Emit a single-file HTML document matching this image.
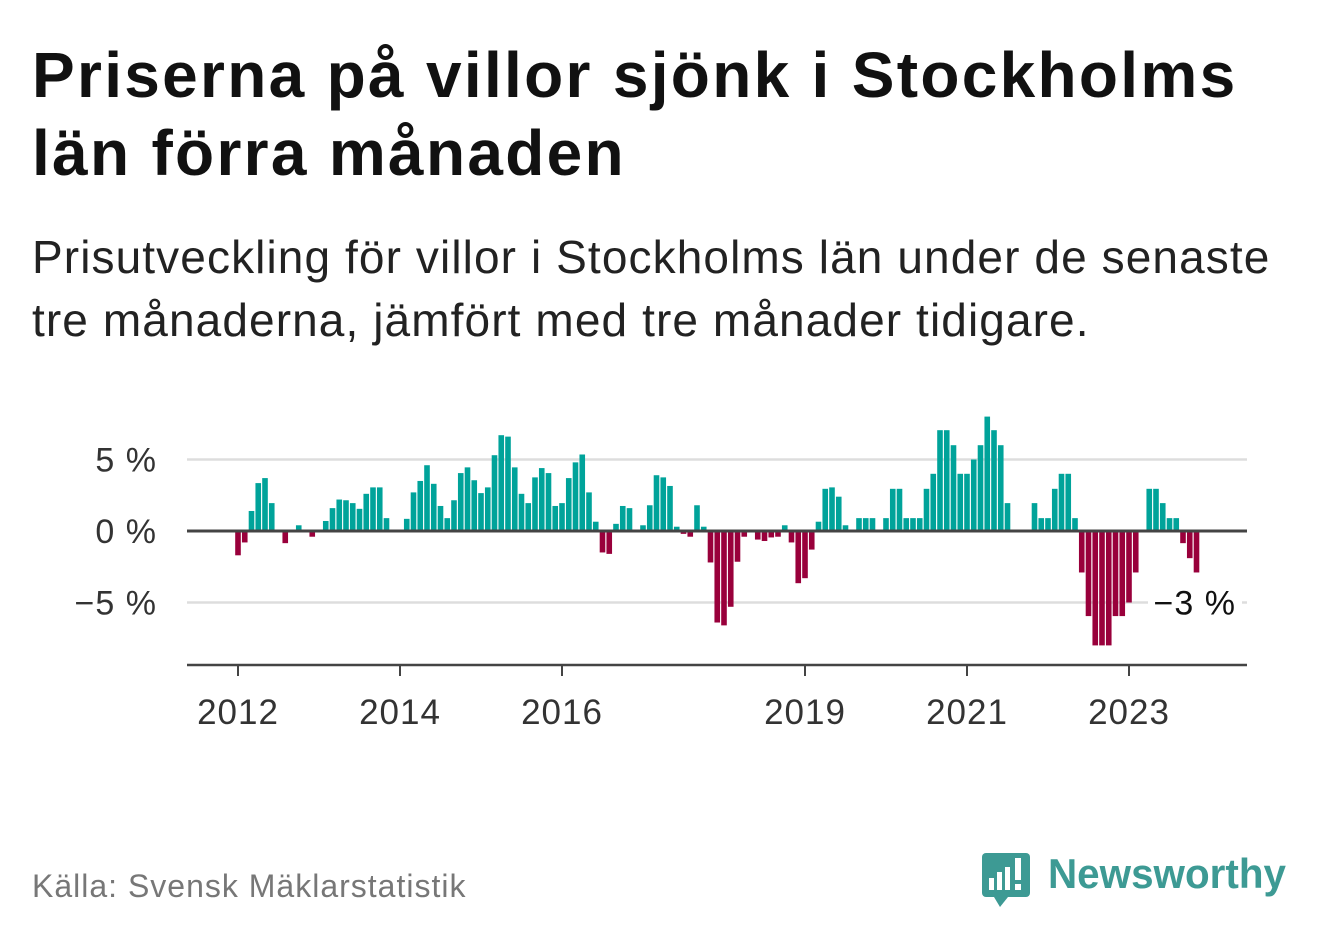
<!DOCTYPE html>
<html><head><meta charset="utf-8">
<style>
body{margin:0;background:#fff;font-family:"Liberation Sans",sans-serif;}
#wrap{position:relative;width:1322px;height:939px;overflow:hidden;}
h1{position:absolute;left:32px;top:36px;margin:0;font-size:64px;line-height:78px;font-weight:bold;color:#111;letter-spacing:2.3px}
.sub{position:absolute;left:32px;top:226px;margin:0;font-size:46px;line-height:63px;color:#222;letter-spacing:1.1px}
.src{position:absolute;left:32px;top:868px;font-size:32px;color:#777;letter-spacing:1px}
.logo{position:absolute;left:980px;top:850px;}
</style></head><body>
<div id="wrap">
<h1>Priserna på villor sjönk i Stockholms<br>län förra månaden</h1>
<p class="sub">Prisutveckling för villor i Stockholms län under de senaste<br>tre månaderna, jämfört med tre månader tidigare.</p>
<svg id="chart" width="1322" height="939" style="position:absolute;left:0;top:0"></svg>
<div class="src">Källa: Svensk Mäklarstatistik</div>
<div class="logo">
<svg width="320" height="62">
<rect x="2" y="3" width="48" height="44" rx="4" fill="#3d9a94"/>
<polygon points="14,47 28,47 20,57" fill="#3d9a94"/>
<rect x="9" y="28" width="5" height="12" fill="#fff"/><rect x="17" y="22" width="5" height="18" fill="#fff"/><rect x="25" y="17" width="5" height="23" fill="#fff"/><rect x="35" y="8" width="6" height="22" fill="#fff"/><rect x="35" y="34" width="6" height="6" fill="#fff"/>
<text x="68" y="38" font-family="Liberation Sans, sans-serif" font-size="42" font-weight="bold" fill="#3d9a94" textLength="238" lengthAdjust="spacingAndGlyphs">Newsworthy</text>
</svg></div>
</div>
<script>
const values=[-1.7,-0.8,1.4,3.35,3.7,1.95,0,-0.85,0,0.4,0,-0.4,
0,0.7,1.6,2.2,2.15,1.95,1.55,2.6,3.05,3.05,0.9,0,
0,0.85,2.7,3.5,4.6,3.3,1.75,0.9,2.15,4.05,4.45,3.55,
2.65,3.05,5.3,6.7,6.6,4.45,2.6,1.95,3.75,4.4,4.05,1.75,
1.95,3.7,4.8,5.35,2.7,0.65,-1.5,-1.6,0.5,1.75,1.6,0,
0.4,1.8,3.9,3.75,3.15,0.3,-0.2,-0.4,1.8,0.3,-2.2,-6.4,
-6.6,-5.3,-2.15,-0.4,0,-0.6,-0.7,-0.45,-0.4,0.4,-0.8,-3.65,
-3.3,-1.3,0.65,2.95,3.05,2.4,0.4,0,0.9,0.9,0.9,0,
0.9,2.95,2.95,0.9,0.9,0.9,2.95,4.0,7.05,7.05,6.0,4.0,
4.0,5.0,6.0,8.0,7.05,6.0,1.95,0,0,0,1.95,0.9,
0.9,2.95,4.0,4.0,0.9,-2.9,-5.95,-8,-8,-8,-5.95,-5.95,
-5.0,-2.9,0,2.95,2.95,1.95,0.9,0.9,-0.85,-1.9,-2.9];
const yTicks=[5,0,-5];
const yTickLabels=["5 %","0 %","\u22125 %"];
const xTickYears=[2012,2014,2016,2019,2021,2023];
const startYear=2012;
const lastLabel="\u22123 %";
const NS="http://www.w3.org/2000/svg";
const svg=document.getElementById('chart');
const x=m=>238+m*6.75;
const y=v=>531-v*14.3;
function el(t,a){const e=document.createElementNS(NS,t);for(const k in a)e.setAttribute(k,a[k]);svg.appendChild(e);return e;}
yTicks.forEach((t,i)=>{
 if(t!==0){const g=el('line',{x1:187,x2:1247,y1:y(t),y2:y(t),stroke:'#ddd','stroke-width':2.5});
 
 }
 const tx=el('text',{x:157,y:y(t)+12,'text-anchor':'end','font-size':34,'letter-spacing':1,fill:'#333','font-family':'Liberation Sans, sans-serif'});
 tx.textContent=yTickLabels[i];
 
 
});
values.forEach((v,i)=>{
 if(v===0)return;
 const r=el('rect',{x:x(i)-2.8,width:5.6,y:v>0?y(v):y(0),height:Math.abs(y(v)-y(0)),fill:v>0?'#00a39a':'#99003b'});
 
 
});
const z=el('line',{x1:187,x2:1247,y1:y(0),y2:y(0),stroke:'#444','stroke-width':3});


const ax=el('line',{x1:187,x2:1247,y1:665,y2:665,stroke:'#444','stroke-width':2.5});


xTickYears.forEach(yr=>{
 const xx=x((yr-startYear)*12);
 const tk=el('line',{x1:xx,x2:xx,y1:665,y2:676,stroke:'#444','stroke-width':2});
 
 
 const t=el('text',{x:xx,y:724,'text-anchor':'middle','font-size':35,'letter-spacing':1,fill:'#333','font-family':'Liberation Sans, sans-serif'});
 t.textContent=yr;
 
 
});
const bg=el('rect',{x:1148,y:y(-5)-20,width:94,height:40,fill:'#fff'});


const lt=el('text',{x:1236,y:y(-5)+12,'text-anchor':'end','font-size':34,'letter-spacing':1,fill:'#111','font-family':'Liberation Sans, sans-serif'});
lt.textContent=lastLabel;


</script>
</body></html>
